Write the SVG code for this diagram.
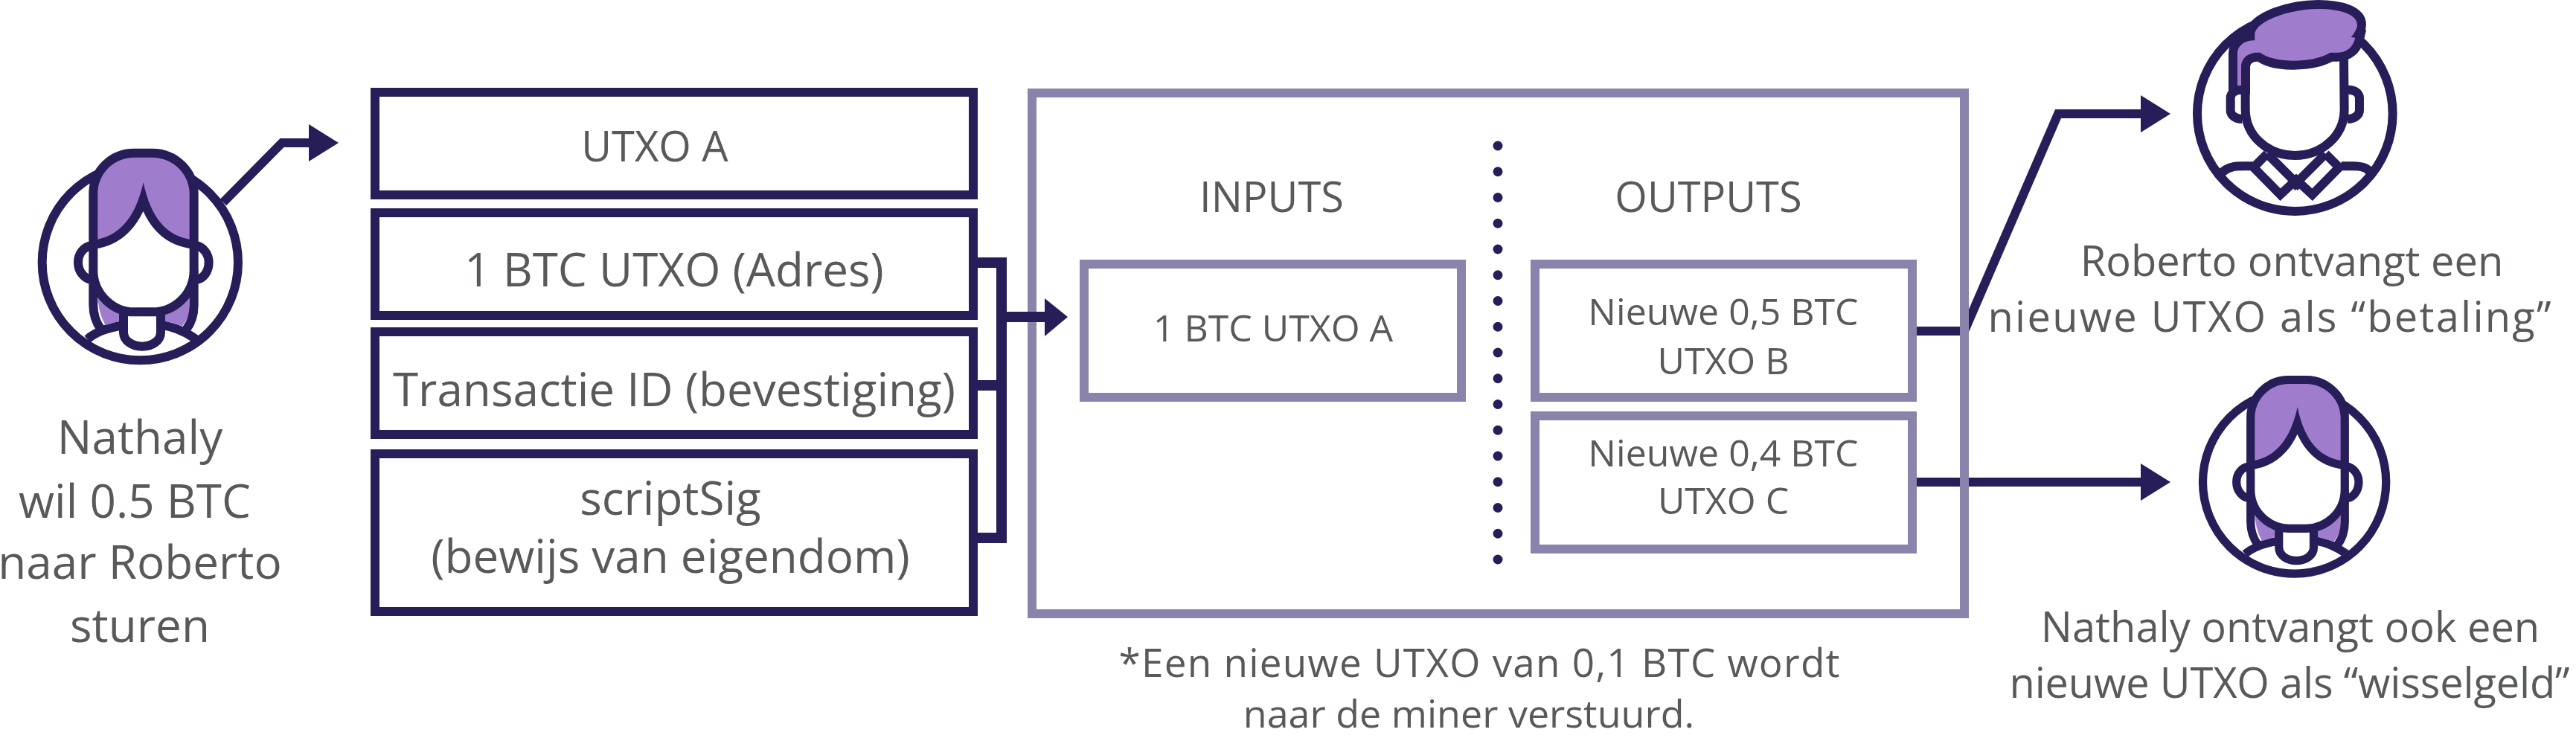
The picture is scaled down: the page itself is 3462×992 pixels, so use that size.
<svg xmlns="http://www.w3.org/2000/svg" width="3462" height="992" viewBox="0 0 3462 992"><style>text{font-family:"Open Sans","Noto Sans",sans-serif;fill:#58595b;text-anchor:middle}.a{font-size:62px}.b{font-size:56px}.c{font-size:50px}.box{fill:#fff;stroke:#261d59;stroke-width:12}.lb{fill:#fff;stroke:#8a83ab;stroke-width:12}.con{fill:none;stroke:#261d59;stroke-width:12}.head{fill:#261d59}.p{fill:none;stroke:#261d59;stroke-width:36}.f{fill:#fff;stroke:#261d59;stroke-width:36}.h{fill:#a07dcc;stroke:#261d59;stroke-width:72;paint-order:stroke;stroke-miterlimit:3}.h2{fill:#a07dcc}</style>
<defs>
<g id="girl">
<circle class="f" cx="565" cy="758" r="395"/>
<path class="p" d="M352,1068C385,1040 440,1020 498,1012M660,1012C710,1020 750,1040 790,1068"/>
<path class="h2" d="M394,880H764V960Q755,990 735,1015L665,995V950H480V995L425,1012Q394,960 394,880Z"/>
<path class="p" d="M376,790V930C376,970 390,1005 408,1030M782,790V930C782,970 770,1005 750,1030"/>
<path class="p" d="M370,690C335,695 315,725 315,758C315,795 340,825 370,828M790,690C820,695 842,725 842,758C842,795 820,825 790,828"/>
<path class="f" d="M498,965V1040C498,1075 535,1097 573,1097C612,1097 648,1075 648,1040V965"/>
<path class="f" d="M376,680V790C376,890 460,958 540,958H615C700,958 782,890 782,790V680"/>
<path class="h" d="M394,665V480C394,400 460,335 540,335H615C695,335 764,400 764,480V665C680,650 610,590 578,435C545,590 470,650 394,665Z"/>
</g>
</defs>
<g id="connectors">
<path class="con" d="M300,272L379,192H417"/><path class="head" d="M415,167L455,192L415,217Z"/>
<path class="con" style="stroke-width:14" d="M1314,353H1346V723H1314M1314,518H1346M1346,426H1406"/>
<path class="con" d="M2576,445H2640L2766,153H2880"/><path class="con" d="M2576,648H2880"/>
</g>
<g id="nathaly"><use href="#girl" transform="translate(0,100) scale(.3333)"/><text class="a" x="188" y="610">Nathaly</text><text class="a" x="181" y="696">wil 0.5 BTC</text><text class="a" x="188" y="778">naar Roberto</text><text class="a" x="188" y="863">sturen</text></g>
<g id="utxo"><rect class="box" x="504" y="124" width="804" height="138"/><text class="b" x="880" y="217">UTXO A</text></g>
<g id="adres"><rect class="box" x="504" y="286" width="804" height="138"/><text class="a" x="906" y="385">1 BTC UTXO (Adres)</text></g>
<g id="txid"><rect class="box" x="504" y="446" width="804" height="138"/><text class="a" x="906" y="546">Transactie ID (bevestiging)</text></g>
<g id="sig"><rect class="box" x="504" y="610" width="804" height="212"/><text class="a" x="901" y="692">scriptSig</text><text class="a" x="901" y="770">(bewijs van eigendom)</text></g>
<g id="tx"><rect class="lb" x="1387" y="125" width="1253" height="700" style="fill:none"/><text class="b" x="1709" y="285">INPUTS</text><text class="b" x="2296" y="285">OUTPUTS</text>
<path style="fill:none;stroke:#261d59;stroke-width:13;stroke-linecap:round;stroke-dasharray:0 34.75" d="M2013,196V753"/></g>
<g id="input"><rect class="lb" x="1457" y="355" width="507" height="179"/><text class="c" x="1711" y="459">1 BTC UTXO A</text></g>
<g id="outb"><rect class="lb" x="2063" y="355" width="507" height="179"/><text class="c" x="2316" y="437">Nieuwe 0,5 BTC</text><text class="c" x="2316" y="503">UTXO B</text></g>
<g id="outc"><rect class="lb" x="2063" y="559" width="507" height="179"/><text class="c" x="2316" y="627">Nieuwe 0,4 BTC</text><text class="c" x="2316" y="691">UTXO C</text></g>
<g id="heads"><path class="con" d="M1346,426H1406" style="stroke-width:14"/><path class="head" d="M1404,401L1435,426L1404,452Z"/><path class="head" d="M2877,128L2917,153L2877,178Z"/><path class="head" d="M2877,623L2917,648L2877,673Z"/></g>
<g id="roberto" transform="translate(2850,0) scale(.3333)">
<circle class="f" cx="703" cy="458" r="394"/>
<path class="p" d="M404,700C433,670 468,670 492,670H533M890,670H937C978,670 1001,680 1007,700"/>
<path class="p" d="M591,620L536,675L644,785L708,725L773,785L881,675L826,620M591,620L726,755M826,620L691,755" stroke-linejoin="miter"/>
<path class="p" d="M503,362H486C463,362 443,375 443,395V445C443,465 463,480 490,480M902,362H919C942,362 963,375 963,395V445C963,465 942,480 915,480"/>
<path class="f" d="M503,270V440C503,550 597,627 703,627C808,627 902,550 902,440L900,235"/>
<path class="h" d="M471,345V215C471,185 498,163 541,163V135C550,80 691,36 796,36C890,36 954,60 954,100C954,115 943,135 929,150L946,152C937,190 913,212 872,212H845C808,235 749,245 697,245C644,245 591,235 564,212H550C515,212 486,235 486,270V345Z"/>
</g>
<g id="roberto-label"><text class="b" x="3080" y="371">Roberto ontvangt een</text><text class="b" x="3050" y="446" textLength="757">nieuwe UTXO als “betaling”</text></g>
<g id="change"><use href="#girl" transform="translate(2907.5,411.7) scale(.3117)"/><text class="b" x="3078" y="863">Nathaly ontvangt ook een</text><text class="b" x="3077" y="938" textLength="753">nieuwe UTXO als “wisselgeld”</text></g>
<g id="note"><text class="c" x="1988" y="910" textLength="969" style="font-size:53px">*Een nieuwe UTXO van 0,1 BTC wordt</text><text class="c" x="1974" y="978" style="font-size:52px">naar de miner verstuurd.</text></g>
</svg>
